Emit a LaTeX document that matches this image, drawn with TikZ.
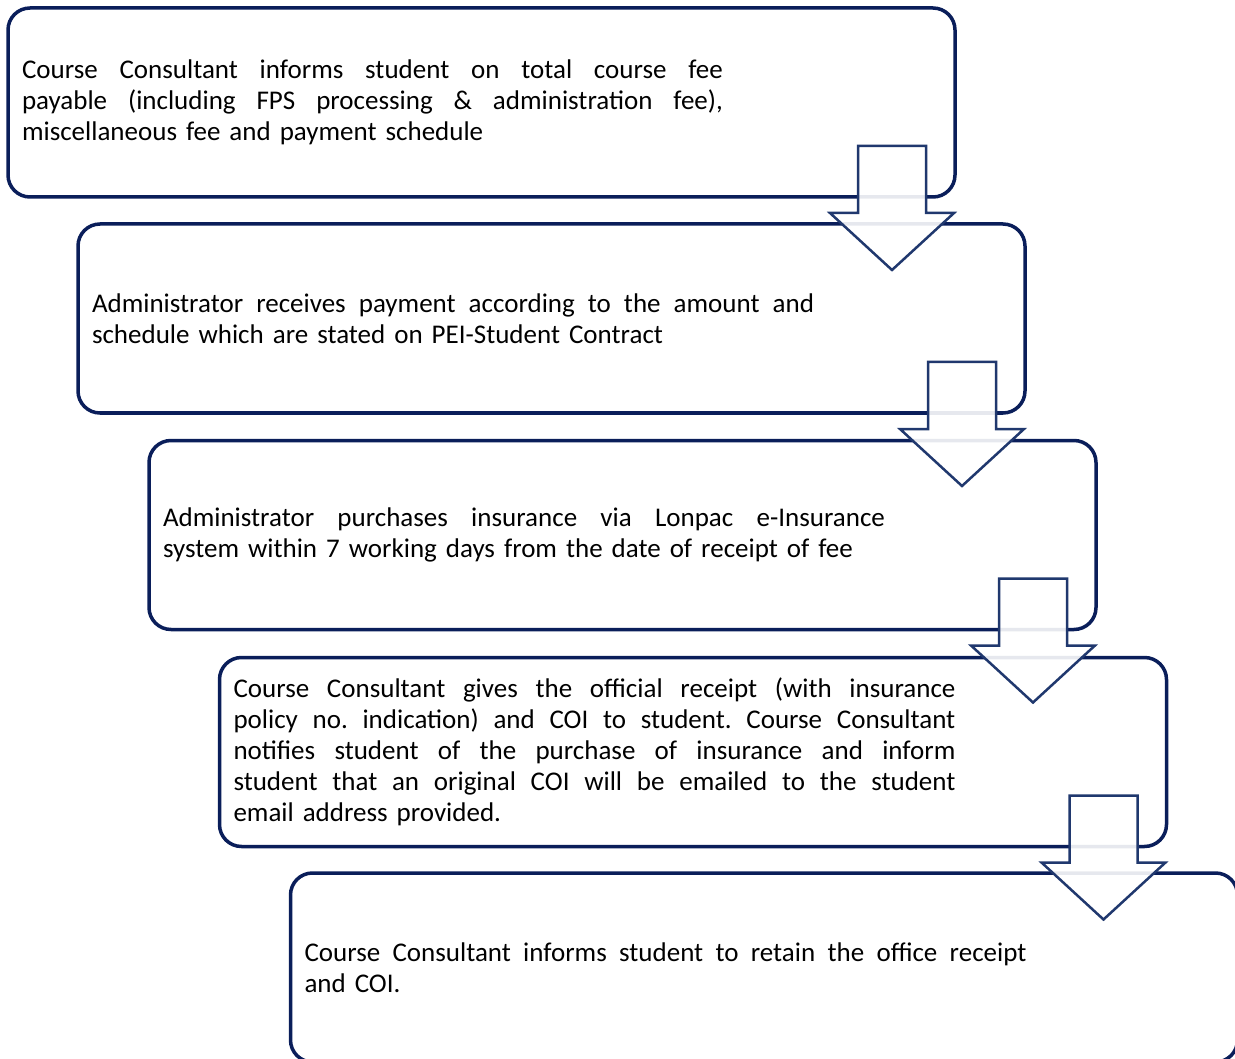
\documentclass[tikz,border=0pt]{standalone}
\usepackage{fontspec}
\setmainfont{Carlito}
\usetikzlibrary{calc}
\definecolor{boxnavy}{RGB}{10,30,90}
\definecolor{arrownavy}{RGB}{32,56,110}
\newcommand{\stepdown}[1]{%
  \draw[blockarrow] ($(#1.south east)+(-97,-51)$) -- ++(68,0) -- ++(0,67) -- ++(28,0)
    -- ++(-62,57) -- ++(-62,-57) -- ++(28,0) -- cycle;}
\newcommand{\steptext}[2]{\parbox[c]{#1}{\leftskip=0pt\rightskip=0pt\parfillskip=0pt plus 1fil
  \spaceskip=.3333em plus 1em minus 0pt\xspaceskip=0pt\tolerance=10000
  \hyphenpenalty=10000\exhyphenpenalty=10000\frenchspacing #2}}
\begin{document}
\begin{tikzpicture}[x=1pt,y=-1pt,
  stepbox/.style={draw=boxnavy,line width=3.5pt,rounded corners=22pt,fill=white,
    minimum width=947pt,minimum height=189pt,outer sep=0pt,inner sep=0pt,
    text width=919pt,align=left,font=\fontsize{27}{31}\selectfont},
  blockarrow/.style={draw=arrownavy,line width=2.5pt,fill=white,fill opacity=0.9,line join=miter}]
\clip (0,0) rectangle (1235,1059);
\node[stepbox] (fee) at (481.5,102.5) {\steptext{701pt}{Course Consultant informs student on total course fee\linebreak payable (including FPS processing \& administration fee),\linebreak miscellaneous fee and payment schedule}};
\node[stepbox] (payment) at (551.5,318.5) {\steptext{722pt}{Administrator receives payment according to the amount and\linebreak schedule which are stated on PEI-Student Contract}};
\node[stepbox] (insurance) at (622.5,535) {\steptext{722pt}{Administrator purchases insurance via Lonpac e-Insurance\linebreak system within 7 working days from the date of receipt of fee}};
\node[stepbox] (receipt) at (693,752) {\steptext{722pt}{Course Consultant gives the official receipt (with insurance\linebreak policy no. indication) and COI to student. Course Consultant\linebreak notifies student of the purchase of insurance and inform\linebreak student that an original COI will be emailed to the student\linebreak email address provided.}};
\node[stepbox] (retain) at (764,967.5) {\steptext{722pt}{Course Consultant informs student to retain the office receipt\linebreak and COI.}};
% arrows between the steps
\stepdown{fee}
\stepdown{payment}
\stepdown{insurance}
\stepdown{receipt}
\end{tikzpicture}
\end{document}
